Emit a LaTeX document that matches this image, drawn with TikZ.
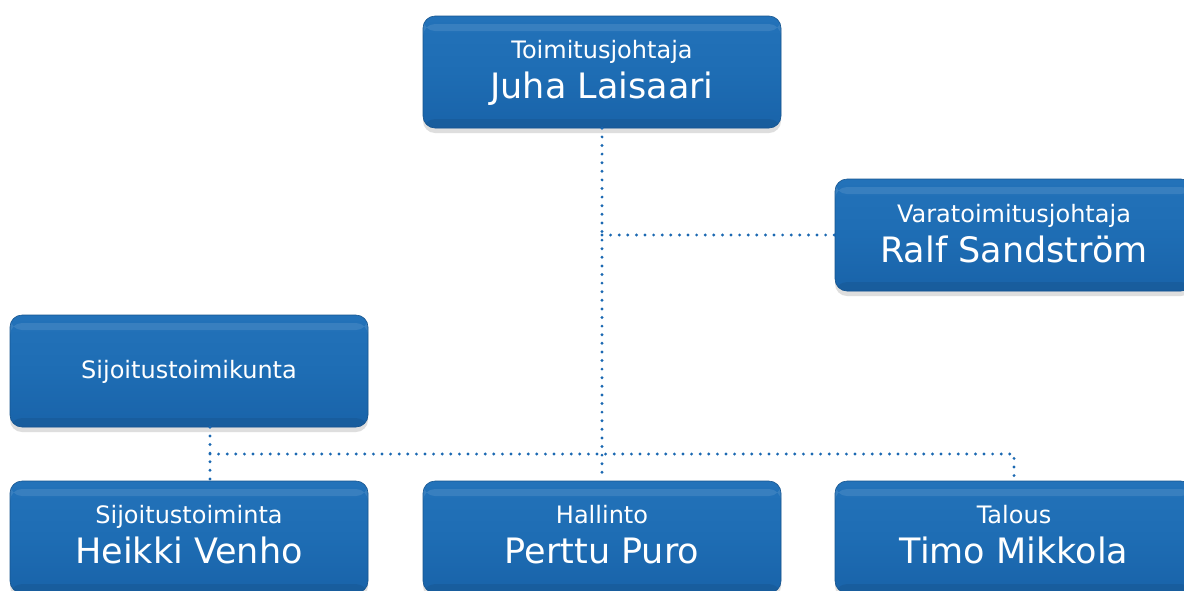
\documentclass[tikz,border=0pt]{standalone}
\usepackage{fontspec}
\setmainfont{DejaVu Sans}
\usetikzlibrary{shadows,calc}
\definecolor{boxblue}{HTML}{1E6DB4}
\definecolor{boxtop}{HTML}{2372B9}
\definecolor{boxbot}{HTML}{1963A9}
\definecolor{boxedge}{HTML}{17558F}
\definecolor{dotblue}{HTML}{1A68B2}
\tikzset{
  orgbox/.style={rounded corners=12pt, minimum width=358pt, minimum height=112pt,
    inner sep=0pt, top color=boxtop, bottom color=boxbot, middle color=boxblue,
    draw=boxedge, line width=0.6pt,
    drop shadow={shadow xshift=0pt, shadow yshift=-5pt, opacity=0.18, fill=black!70},
    path picture={
      \fill[white,opacity=0.10] ($(path picture bounding box.north west)+(0,-8pt)$)
        rectangle ($(path picture bounding box.north east)+(0,-15pt)$);
      \fill[boxedge,opacity=0.45] ($(path picture bounding box.south west)+(0,9pt)$)
        rectangle ($(path picture bounding box.south east)+(0,0pt)$);
    }},
  rolefont/.style={font=\fontsize{24}{28}\selectfont, text=white, anchor=base, inner sep=0pt},
  namefont/.style={font=\fontsize{35}{40}\selectfont, text=white, anchor=base, inner sep=0pt},
  conn/.style={draw=dotblue, line width=3.2pt, line cap=round, dash pattern=on 0pt off 8.6pt},
}
\begin{document}
\begin{tikzpicture}[x=1pt,y=-1pt]
\useasboundingbox[fill=white] (0,0) rectangle (1184,590);
\coordinate (bl) at (210,454);
\coordinate (br) at (1014,454);
% boxes
\node[orgbox] (ceo) at (602,72) {};
\node[orgbox] (vara) at (1014,235) {};
\node[orgbox] (stk) at (189,371) {};
\node[orgbox] (sij) at (189,537) {};
\node[orgbox] (hal) at (602,537) {};
\node[orgbox] (tal) at (1014,537) {};
% texts
\node[rolefont] (ceoR) at ($(ceo.north)+(0,43)$) {Toimitusjohtaja};
\node[namefont] (ceoN) at ($(ceo.north)+(0,83)$) {Juha Laisaari};
\node[rolefont] (varaR) at ($(vara.north)+(0,44)$) {Varatoimitusjohtaja};
\node[namefont] (varaN) at ($(vara.north)+(0,84)$) {Ralf Sandström};
\node[rolefont] (stkR) at ($(stk.north)+(0,64)$) {Sijoitustoimikunta};
\node[rolefont] (sijR) at ($(sij.north)+(0,43)$) {Sijoitustoiminta};
\node[namefont] (sijN) at ($(sij.north)+(0,83)$) {Heikki Venho};
\node[rolefont] (halR) at ($(hal.north)+(0,43)$) {Hallinto};
\node[namefont] (halN) at ($(hal.north)+(0,83)$) {Perttu Puro};
\node[rolefont] (talR) at ($(tal.north)+(0,43)$) {Talous};
\node[namefont] (talN) at ($(tal.north)+(0,83)$) {Timo Mikkola};
% connectors
\draw[conn] (ceo.south) -- (hal.north);
\draw[conn] (ceo.south |- vara.west) -- (vara.west);
\draw[conn] ($(stk.south)+(21,0)$) -- ($(sij.north)+(21,0)$);
\draw[conn] (bl) -- (br) -- (tal.north);
\end{tikzpicture}
\end{document}
